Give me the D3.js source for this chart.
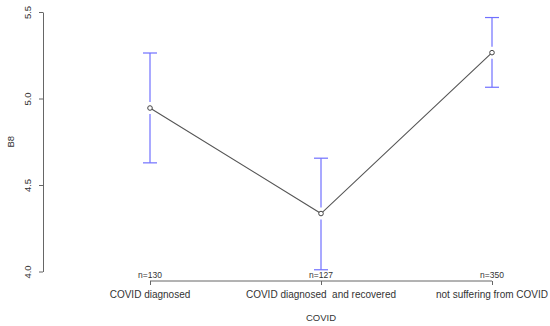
<!DOCTYPE html>
<html>
<head>
<meta charset="utf-8">
<script src="https://cdn.jsdelivr.net/npm/d3@7"></script>
<style>
  body { margin: 0; background: #fff; }
  text { font-family: "Liberation Sans", Arial, sans-serif; fill: #333; }
</style>
</head>
<body>
<svg id="chart"></svg>
<script>
// Data
const groups = ["COVID diagnosed", "COVID diagnosed  and recovered", "not suffering from COVID"];
const counts = [130, 127, 350];
const means = [4.945, 4.335, 5.265];
const lower = [4.628, 4.01, 5.065];
const upper = [5.263, 4.655, 5.468];
const yTicks = [4.0, 4.5, 5.0, 5.5];

const width = 550;
const height = 326;

const svg = d3.select("#chart")
    .attr("width", width)
    .attr("height", height);

// Scales
const x = d3.scalePoint()
    .domain(groups)
    .range([150, 492]);

const y = d3.scaleLinear()
    .domain([4.0, 5.5])
    .range([271.5, 12]);

const axisColor = "#666";

// Y axis
const yAxis = svg.append("g")
    .attr("transform", "translate(43,0)")
    .call(d3.axisLeft(y).tickValues(yTicks).tickFormat(d3.format(".1f")).tickSize(4).tickSizeOuter(0));
yAxis.select(".domain").attr("stroke", axisColor);
yAxis.selectAll(".tick line").attr("stroke", axisColor);
yAxis.selectAll(".tick text")
    .attr("x", null).attr("dy", null)
    .attr("transform", "translate(-12,0) rotate(-90)")
    .attr("text-anchor", "middle")
    .attr("font-size", 9.5)
    .style("fill", "#333");

svg.append("text")
    .attr("transform", `translate(11,${(y(4.0) + y(5.5)) / 2}) rotate(-90)`)
    .attr("text-anchor", "middle")
    .attr("dy", "0.35em")
    .attr("font-size", 9.5)
    .text("B8");

// X axis
const axisY = 281;
const xAxis = svg.append("g")
    .attr("transform", `translate(0,${axisY})`)
    .call(d3.axisBottom(x).tickSize(4).tickSizeOuter(0).tickFormat(""));
xAxis.select(".domain").attr("stroke", axisColor).attr("d", `M${x(groups[0])},0H${x(groups[2])}`);
xAxis.selectAll(".tick line").attr("stroke", axisColor);

svg.selectAll(".cat")
    .data(groups)
    .join("text")
    .attr("class", "cat")
    .attr("x", d => x(d))
    .attr("y", 298)
    .attr("text-anchor", "middle")
    .attr("font-size", 10)
    .style("white-space", "pre")
    .text(d => d);

svg.selectAll(".n")
    .data(counts)
    .join("text")
    .attr("class", "n")
    .attr("x", (d, i) => x(groups[i]))
    .attr("y", 278)
    .attr("text-anchor", "middle")
    .attr("font-size", 8.5)
    .text(d => "n=" + d);

svg.append("text")
    .attr("x", x(groups[1]))
    .attr("y", 321)
    .attr("text-anchor", "middle")
    .attr("font-size", 9.5)
    .text("COVID");

// Error bars (with a small gap around the point)
const blue = "#7070ff";
const gap = 6;
const capW = 7;
groups.forEach((g, i) => {
    const cx = x(g);
    const bars = svg.append("g").attr("stroke", blue).attr("stroke-width", 1.2);
    bars.append("line").attr("x1", cx).attr("x2", cx).attr("y1", y(upper[i])).attr("y2", y(means[i]) - gap);
    bars.append("line").attr("x1", cx).attr("x2", cx).attr("y1", y(means[i]) + gap).attr("y2", y(lower[i]));
    bars.append("line").attr("x1", cx - capW).attr("x2", cx + capW).attr("y1", y(upper[i])).attr("y2", y(upper[i]));
    bars.append("line").attr("x1", cx - capW).attr("x2", cx + capW).attr("y1", y(lower[i])).attr("y2", y(lower[i]));
});

// Mean line
const line = d3.line()
    .x((d, i) => x(groups[i]))
    .y(d => y(d));

svg.append("path")
    .datum(means)
    .attr("d", line)
    .attr("fill", "none")
    .attr("stroke", "#555")
    .attr("stroke-width", 1.1);

svg.selectAll(".pt")
    .data(means)
    .join("circle")
    .attr("class", "pt")
    .attr("cx", (d, i) => x(groups[i]))
    .attr("cy", d => y(d))
    .attr("r", 2.3)
    .attr("fill", "#fff")
    .attr("stroke", "#444")
    .attr("stroke-width", 1);
</script>
</body>
</html>
